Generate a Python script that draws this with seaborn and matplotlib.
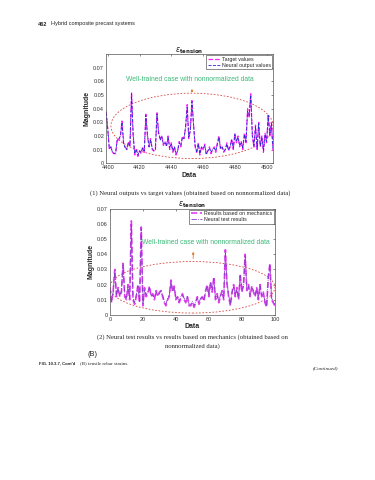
import numpy as np
import pandas as pd
import matplotlib
matplotlib.use("Agg")
import matplotlib.pyplot as plt
import seaborn as sns
from matplotlib.patches import Ellipse

# ------------------------------------------------------------
# data read from the page
# ------------------------------------------------------------
x_top = list(range(4399, 4505))
target_values = [
    0.038, 0.025, 0.010, 0.012, 0.008, 0.007, 0.007, 0.018, 0.017, 0.020,
    0.031, 0.014, 0.012, 0.010, 0.016, 0.012, 0.052, 0.020, 0.006, 0.010,
    0.005, 0.009, 0.007, 0.012, 0.008, 0.036, 0.020, 0.012, 0.018, 0.010,
    0.009, 0.010, 0.037, 0.022, 0.018, 0.020, 0.013, 0.016, 0.012, 0.020,
    0.010, 0.015, 0.008, 0.012, 0.006, 0.009, 0.016, 0.012, 0.020, 0.018,
    0.026, 0.043, 0.018, 0.025, 0.046, 0.028, 0.012, 0.008, 0.015, 0.006,
    0.012, 0.010, 0.014, 0.006, 0.009, 0.012, 0.007, 0.010, 0.012, 0.008,
    0.015, 0.020, 0.010, 0.012, 0.008, 0.010, 0.015, 0.009, 0.012, 0.018,
    0.010, 0.022, 0.015, 0.020, 0.012, 0.016, 0.010, 0.022, 0.015, 0.040,
    0.034, 0.051, 0.020, 0.012, 0.028, 0.010, 0.030, 0.012, 0.020, 0.008,
    0.022, 0.015, 0.036, 0.020, 0.030, 0.009,
]
neural_output = [
    0.037, 0.026, 0.011, 0.012, 0.008, 0.007, 0.008, 0.017, 0.018, 0.020,
    0.030, 0.015, 0.011, 0.010, 0.015, 0.013, 0.051, 0.021, 0.007, 0.010,
    0.006, 0.009, 0.008, 0.011, 0.009, 0.035, 0.021, 0.012, 0.017, 0.011,
    0.009, 0.010, 0.036, 0.023, 0.017, 0.020, 0.014, 0.015, 0.013, 0.019,
    0.011, 0.014, 0.009, 0.012, 0.007, 0.009, 0.015, 0.013, 0.019, 0.018,
    0.027, 0.041, 0.019, 0.024, 0.045, 0.029, 0.013, 0.008, 0.014, 0.007,
    0.012, 0.011, 0.013, 0.007, 0.009, 0.011, 0.008, 0.010, 0.011, 0.009,
    0.014, 0.019, 0.011, 0.012, 0.009, 0.010, 0.014, 0.010, 0.012, 0.017,
    0.011, 0.021, 0.016, 0.019, 0.013, 0.015, 0.011, 0.021, 0.016, 0.038,
    0.035, 0.050, 0.021, 0.013, 0.027, 0.011, 0.029, 0.013, 0.019, 0.009,
    0.021, 0.016, 0.035, 0.021, 0.029, 0.010,
]

x_bot = list(range(0, 101))
mechanics_results = [
    0.018, 0.008, 0.016, 0.030, 0.012, 0.018, 0.012, 0.015, 0.034, 0.012,
    0.010, 0.020, 0.010, 0.062, 0.010, 0.007, 0.012, 0.020, 0.008, 0.058,
    0.006, 0.018, 0.012, 0.014, 0.019, 0.012, 0.014, 0.010, 0.016, 0.012,
    0.015, 0.016, 0.012, 0.008, 0.006, 0.010, 0.012, 0.023, 0.015, 0.019,
    0.010, 0.012, 0.008, 0.011, 0.014, 0.010, 0.008, 0.012, 0.006, 0.006,
    0.008, 0.005, 0.008, 0.012, 0.007, 0.010, 0.012, 0.009, 0.016, 0.020,
    0.012, 0.022, 0.015, 0.025, 0.010, 0.014, 0.008, 0.012, 0.016, 0.010,
    0.043, 0.020, 0.012, 0.006, 0.015, 0.020, 0.012, 0.018, 0.010, 0.027,
    0.015, 0.020, 0.040, 0.016, 0.020, 0.012, 0.019, 0.015, 0.012, 0.018,
    0.010, 0.020, 0.012, 0.015, 0.008, 0.005, 0.025, 0.034, 0.010, 0.008,
    0.006,
]
neural_test = [
    0.017, 0.009, 0.015, 0.029, 0.013, 0.017, 0.013, 0.016, 0.033, 0.013,
    0.011, 0.019, 0.011, 0.060, 0.011, 0.008, 0.013, 0.019, 0.009, 0.057,
    0.007, 0.017, 0.013, 0.015, 0.018, 0.013, 0.013, 0.011, 0.015, 0.013,
    0.014, 0.016, 0.013, 0.009, 0.007, 0.011, 0.013, 0.022, 0.016, 0.018,
    0.011, 0.012, 0.009, 0.012, 0.013, 0.011, 0.009, 0.012, 0.007, 0.007,
    0.009, 0.006, 0.009, 0.011, 0.008, 0.011, 0.012, 0.010, 0.015, 0.019,
    0.013, 0.021, 0.016, 0.024, 0.011, 0.013, 0.009, 0.013, 0.015, 0.011,
    0.042, 0.021, 0.013, 0.007, 0.014, 0.019, 0.013, 0.017, 0.011, 0.026,
    0.016, 0.019, 0.039, 0.017, 0.019, 0.013, 0.018, 0.016, 0.013, 0.017,
    0.011, 0.019, 0.013, 0.014, 0.009, 0.006, 0.024, 0.033, 0.011, 0.009,
    0.007,
]

y_ticks = [0, 0.01, 0.02, 0.03, 0.04, 0.05, 0.06, 0.07]
y_tick_labels = ["0", "0.01", "0.02", "0.03", "0.04", "0.05", "0.06", "0.07"]
top_x_ticks = [4400, 4420, 4440, 4460, 4480, 4500]
bot_x_ticks = [0, 20, 40, 60, 80, 100]

note = "Well-trained case with nonnormalized data"
title = r"$\varepsilon_{\mathbf{tension}}$"

# ------------------------------------------------------------
sns.set_theme(style="white")
plt.rcParams["font.family"] = ["Liberation Sans", "DejaVu Sans"]
plt.rcParams["mathtext.fontset"] = "dejavusans"

fig = plt.figure(figsize=(3.75, 4.8), dpi=100)
fig.patch.set_facecolor("white")

green = "#3cb878"
orange = "#e07b2a"
red = "#d9473f"


def style_axes(ax, xticks, xlim, ylim):
    ax.set_xlim(*xlim)
    ax.set_ylim(*ylim)
    ax.set_xticks(xticks)
    ax.set_xticklabels([str(t) for t in xticks])
    ax.set_yticks(y_ticks)
    ax.set_yticklabels(y_tick_labels)
    ax.tick_params(direction="in", length=1.5, width=0.4, labelsize=4,
                   top=True, right=True, pad=1.5, colors="#333333")
    for s in ax.spines.values():
        s.set_linewidth(0.5)
        s.set_color("#555555")
    ax.set_xlabel("Data", fontsize=5, fontweight="bold", labelpad=1)
    ax.set_ylabel("Magnitude", fontsize=5, fontweight="bold", labelpad=2)
    ax.set_title(title, fontsize=5.5, pad=1.5)


# ---------------- top chart ----------------
ax1 = fig.add_axes([0.283, 0.660, 0.445, 0.227])
df1 = pd.DataFrame({"x": x_top, "target": target_values, "neural": neural_output})
sns.lineplot(data=df1, x="x", y="target", ax=ax1, color="#ff22ff", linestyle="--",
             linewidth=0.9, label="Target values")
sns.lineplot(data=df1, x="x", y="neural", ax=ax1, color="#2a2ad0", linestyle="--",
             linewidth=0.6, label="Neural output values")
style_axes(ax1, top_x_ticks, (4399, 4504), (0, 0.08))
ax1.add_patch(Ellipse((4453, 0.0274), 102, 0.048, fill=False, edgecolor=red,
                      linestyle=(0, (2, 2)), linewidth=0.6))
ax1.annotate("", xy=(4453, 0.0565), xytext=(4453, 0.0512),
             arrowprops=dict(arrowstyle="-|>", color=orange, lw=0.6,
                             mutation_scale=3))
ax1.text(4452, 0.0614, note, color=green, fontsize=4.9, ha="center", va="center")
leg = ax1.legend(loc="upper right", fontsize=3.8, frameon=True, fancybox=False,
                 edgecolor="#333333", framealpha=1, handlelength=2.2,
                 borderpad=0.3, labelspacing=0.2, borderaxespad=0.15,
                 handletextpad=0.4)
leg.get_frame().set_linewidth(0.4)

# ---------------- bottom chart ----------------
ax2 = fig.add_axes([0.293, 0.344, 0.440, 0.221])
df2 = pd.DataFrame({"x": x_bot, "mech": mechanics_results, "nn": neural_test})
sns.lineplot(data=df2, x="x", y="mech", ax=ax2, color="#e040f0", linestyle="--",
             linewidth=1.2, label="Results based on mechanics")
sns.lineplot(data=df2, x="x", y="nn", ax=ax2, color="#8a3cc8", linestyle="-.",
             linewidth=0.6, label="Neural test results")
style_axes(ax2, bot_x_ticks, (0, 100), (0, 0.07))
ax2.add_patch(Ellipse((50, 0.0182), 100, 0.034, fill=False, edgecolor=red,
                      linestyle=(0, (2, 2)), linewidth=0.6))
ax2.annotate("", xy=(50.5, 0.0435), xytext=(50.5, 0.0353),
             arrowprops=dict(arrowstyle="-|>", color=orange, lw=0.6,
                             mutation_scale=3))
ax2.text(58, 0.048, note, color=green, fontsize=4.9, ha="center", va="center")
leg2 = ax2.legend(loc="upper right", fontsize=3.8, frameon=True, fancybox=False,
                  edgecolor="#333333", framealpha=1, handlelength=2.2,
                  borderpad=0.3, labelspacing=0.2, borderaxespad=0.15,
                  handletextpad=0.4)
leg2.get_frame().set_linewidth(0.4)

# ---------------- page texts ----------------
serif = ["Liberation Serif", "DejaVu Serif"]
fig.text(38 / 375, 1 - 24 / 480, "462", fontsize=4.0, fontweight="bold",
         va="center", ha="left")
fig.text(51 / 375, 1 - 24 / 480, "Hybrid composite precast systems", fontsize=4.0,
         va="center", ha="left", color="#222222")
fig.text(190 / 375, 1 - 193 / 480,
         "(1) Neural outputs vs target values (obtained based on nonnormalized data)",
         fontsize=4.8, family=serif, ha="center", va="center")
fig.text(192 / 375, 1 - 337 / 480,
         "(2) Neural test results vs results based on mechanics (obtained based on",
         fontsize=4.8, family=serif, ha="center", va="center")
fig.text(192 / 375, 1 - 346 / 480, "nonnormalized data)",
         fontsize=4.8, family=serif, ha="center", va="center")
fig.text(88 / 375, 1 - 354 / 480, "(B)", fontsize=5.3, ha="left", va="center")
fig.text(39 / 375, 1 - 363 / 480, "FIG. 10.3.7, Cont'd", fontsize=3.1,
         fontweight="bold", ha="left", va="center")
fig.text(80 / 375, 1 - 363 / 480, "(B) tensile rebar strains.", fontsize=3.6,
         family=serif, ha="left", va="center")
fig.text(338 / 375, 1 - 368 / 480, "(Continued)", fontsize=3.8, family=serif,
         style="italic", ha="right", va="center")

fig.savefig("out.png", dpi=100)
